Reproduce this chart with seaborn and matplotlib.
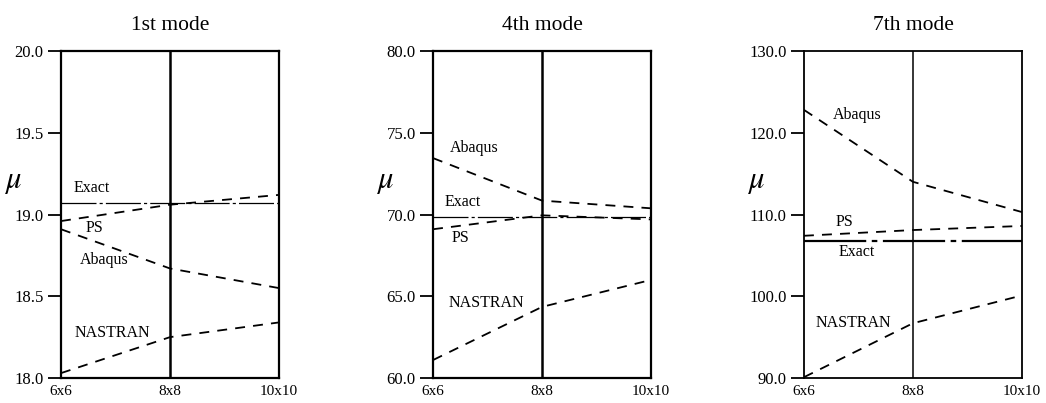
import numpy as np
import pandas as pd
import seaborn as sns
import matplotlib.pyplot as plt

sns.set_style("white")
plt.rcParams['font.family'] = ['Liberation Serif', 'DejaVu Serif']
plt.rcParams['mathtext.fontset'] = 'stix'
plt.rcParams['text.color'] = 'black'
plt.rcParams['xtick.color'] = 'black'
plt.rcParams['ytick.color'] = 'black'

# mesh sizes along x
meshes = ["6x6", "8x8", "10x10"]
methods = ["PS", "Abaqus", "NASTRAN"]

# 1st mode
exact_1 = [19.07, 19.07, 19.07]
ps_1 = [18.96, 19.06, 19.12]
abaqus_1 = [18.91, 18.67, 18.55]
nastran_1 = [18.03, 18.25, 18.34]

# 4th mode
exact_4 = [69.83, 69.83, 69.83]
ps_4 = [69.1, 69.95, 69.7]
abaqus_4 = [73.45, 70.85, 70.38]
nastran_4 = [61.1, 64.35, 66.0]

# 7th mode
exact_7 = [106.7, 106.7, 106.7]
ps_7 = [107.4, 108.1, 108.6]
abaqus_7 = [122.8, 114.0, 110.3]
nastran_7 = [90.1, 96.7, 100.1]

titles = ["1st mode", "4th mode", "7th mode"]
ylims = [(18.0, 20.0), (60.0, 80.0), (90.0, 130.0)]
ysteps = [0.5, 5.0, 10.0]

modes = [
    (exact_1, ps_1, abaqus_1, nastran_1),
    (exact_4, ps_4, abaqus_4, nastran_4),
    (exact_7, ps_7, abaqus_7, nastran_7),
]

# label positions (x in mesh index units, y in data units)
label_pos = [
    {"Exact": (0.28, 19.16), "PS": (0.31, 18.92), "Abaqus": (0.40, 18.72), "NASTRAN": (0.47, 18.275)},
    {"Exact": (0.27, 70.76), "PS": (0.25, 68.56), "Abaqus": (0.38, 74.07), "NASTRAN": (0.49, 64.6)},
    {"Exact": (0.48, 105.4), "PS": (0.37, 109.1), "Abaqus": (0.49, 122.2), "NASTRAN": (0.45, 96.7)},
]

lefts = [0.0583, 0.414, 0.7686]
exact_lw = [0.9, 0.9, 1.6]
mid_lw = [1.8, 1.8, 1.1]

fig = plt.figure(figsize=(10.46, 4.03), dpi=100)

for i, (ex, ps, ab, na) in enumerate(modes):
    ax = fig.add_axes([lefts[i], 0.062, 0.2084, 0.8114])

    df = pd.DataFrame({
        "mesh": meshes * 3,
        "mu": ps + ab + na,
        "method": np.repeat(methods, 3),
    })
    ex_df = pd.DataFrame({"mesh": meshes, "mu": ex})

    sns.lineplot(data=ex_df, x="mesh", y="mu", color="black", lw=exact_lw[i],
                 linestyle=(0, (28, 2.5, 2.5, 2.5)), ax=ax)
    sns.lineplot(data=df, x="mesh", y="mu", style="method",
                 dashes={m: (5.5, 4.5) for m in methods}, color="black",
                 lw=1.3, legend=False, sort=False, ax=ax)

    ax.axvline(1, color="black", lw=mid_lw[i], zorder=1)

    ax.set_xlim(0, 2)
    ax.set_ylim(*ylims[i])
    lo, hi = ylims[i]
    yt = np.arange(lo, hi + ysteps[i] / 2, ysteps[i])
    ax.set_yticks(yt)
    ax.set_yticklabels([f"{v:.1f}" for v in yt])
    ax.set_xticks([0, 1, 2])
    ax.set_xticklabels(meshes)
    ax.tick_params(axis="y", direction="out", length=9.5, width=1.3, pad=3,
                   labelsize=12, left=True)
    ax.tick_params(axis="x", length=0, pad=5, labelsize=11)
    ax.set_xlabel("")
    ax.set_ylabel("")
    for s in ax.spines.values():
        s.set_color("black")
        s.set_linewidth(1.6 if i < 2 else 1.3)

    ax.set_title(titles[i], fontsize=15.5, pad=15)
    ax.text(-0.22, 0.6, r"$\mu$", transform=ax.transAxes, fontsize=22,
            ha="center", va="center")

    for name, (lx, ly) in label_pos[i].items():
        ax.text(lx, ly, name, fontsize=11.5, ha="center", va="center")

fig.savefig("out.png", dpi=100)
plt.close(fig)
